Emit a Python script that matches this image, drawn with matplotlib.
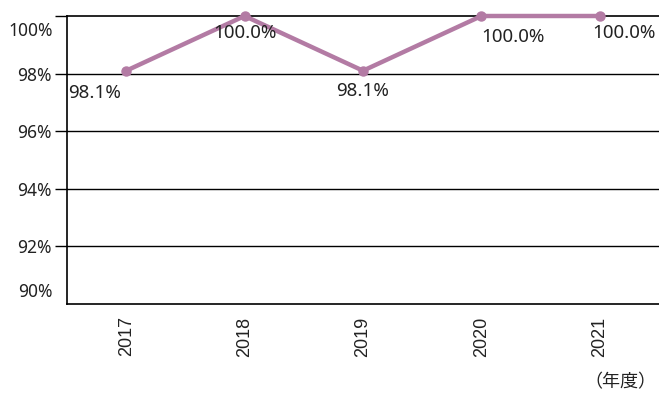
import matplotlib.pyplot as plt

years = ["2017", "2018", "2019", "2020", "2021"]
rates = [98.1, 100.0, 98.1, 100.0, 100.0]
y_ticks = [90, 92, 94, 96, 98, 100]
tick_labels = ["90%", "92%", "94%", "96%", "98%", "100%"]

plt.rcParams['font.family'] = ['Noto Sans', 'Noto Sans CJK JP', 'DejaVu Sans']

fig = plt.figure(figsize=(6.59, 3.93), dpi=100)
ax = fig.add_axes([67 / 659, 1 - 304 / 393, 592 / 659, 288 / 393])

x = list(range(len(years)))
ax.plot(x, rates, color="#b37ba4", lw=3.2, marker="o", ms=6.5,
        solid_capstyle="round", zorder=3, clip_on=False)

ax.set_xlim(-0.5, len(years) - 0.5)
ax.set_ylim(90, 100)
ax.set_yticks(y_ticks)
# end labels are drawn separately so they stay inside the plot height
inner = [lab if t not in (y_ticks[0], y_ticks[-1]) else ""
         for t, lab in zip(y_ticks, tick_labels)]
ax.set_yticklabels(inner, fontsize=12.5, color="#222222")
ax.tick_params(axis="y", length=9, width=1, pad=2)
ax.yaxis.get_major_ticks()[0].tick1line.set_visible(False)
for t, lab, dy in [(y_ticks[-1], tick_labels[-1], -15), (y_ticks[0], tick_labels[0], 12)]:
    ax.annotate(lab, (0, t), xycoords=ax.get_yaxis_transform(),
                xytext=(-14, dy), textcoords="offset pixels",
                ha="right", va="center", fontsize=12.5, color="#222222")

ax.set_xticks(x)
ax.set_xticklabels(years, rotation=90, fontsize=13, family="Liberation Sans",
                   color="#222222")
ax.tick_params(axis="x", length=0, pad=9)

for v in y_ticks[1:-1]:
    ax.axhline(v, color="black", lw=1, zorder=1)

ax.spines["right"].set_visible(False)
for side in ["top", "left", "bottom"]:
    ax.spines[side].set_linewidth(1.2)

# value labels under each point (offsets in pixels)
offsets = [(-58, -22, "left"), (0, -17, "center"), (0, -20, "center"),
           (0, -21, "left"), (-8, -17, "left")]
for i, (v, (dx, dy, ha)) in enumerate(zip(rates, offsets)):
    ax.annotate(f"{v:.1f}%", (i, v), xytext=(dx, dy), textcoords="offset pixels",
                ha=ha, va="center", fontsize=13.5, color="#222222", zorder=4)

fig.text(656 / 659, 1 - 382 / 393, "（年度）", ha="right", va="center",
         fontsize=13, color="#222222", family=["Noto Sans CJK JP"])

fig.savefig("out.png", dpi=100)
